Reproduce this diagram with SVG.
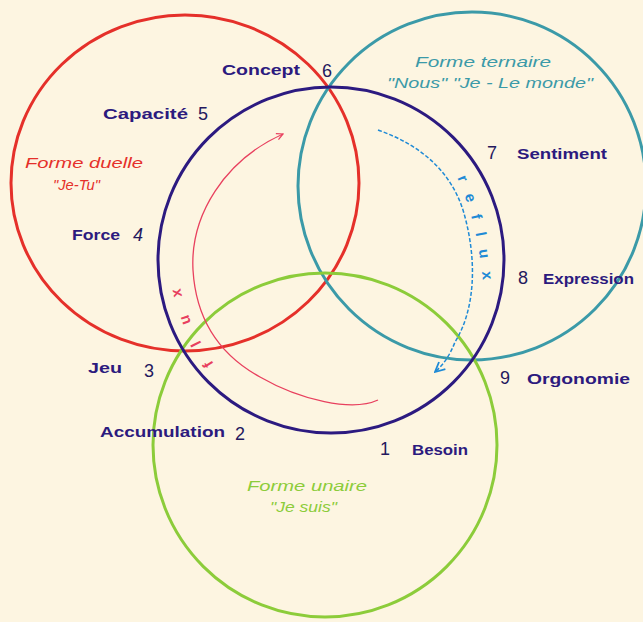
<svg xmlns="http://www.w3.org/2000/svg" width="643" height="622" viewBox="0 0 643 622">
<defs>
<style>
.lbl{font-family:"Liberation Sans",Arial,sans-serif;font-weight:bold;font-size:15px;fill:#2c1a7e}
.num{font-family:"Liberation Sans",Arial,sans-serif;font-size:18px;fill:#24185e}
.form{font-family:"Liberation Sans",Arial,sans-serif;font-style:italic;font-size:15px}
.c{fill:none;stroke-width:3}
</style>
<marker id="ahPink" viewBox="0 0 10 10" refX="9" refY="5" markerWidth="8" markerHeight="8" orient="auto" markerUnits="userSpaceOnUse">
<path d="M1,1 L9,5 L1,9" fill="none" stroke="#e8405e" stroke-width="1.5"/>
</marker>
<marker id="ahBlue" viewBox="0 0 10 10" refX="9" refY="5" markerWidth="12" markerHeight="12" orient="auto" markerUnits="userSpaceOnUse">
<path d="M1,1 L9,5 L1,9" fill="none" stroke="#1e8ad6" stroke-width="1.5"/>
</marker>
</defs>
<rect width="643" height="622" fill="#fdf5e1"/>
<g id="circles">
<g id="red-circle"><ellipse class="c" cx="185" cy="183" rx="174" ry="168" stroke="#e5302a"/></g>
<g id="teal-circle"><circle class="c" cx="472" cy="186" r="174" stroke="#3b9aa8"/></g>
<g id="green-circle"><circle class="c" cx="325" cy="445" r="172" stroke="#8ccc3a"/></g>
<g id="navy-circle"><circle class="c" cx="331" cy="260" r="173" stroke="#2c1a80"/></g>
</g>
<g id="connectors">
<path id="fluxPath" d="M378,400 C352,412 300,400 260,377 C220,355 196,320 193,270 C190,215 225,160 283,134" fill="none" stroke="#e8405e" stroke-width="1.3" marker-end="url(#ahPink)"/>
<path id="refluxPath" d="M378,130 C420,145 450,170 463,210 C478,260 475,310 455,342 C450,355 444,364 435,372" fill="none" stroke="#1e8ad6" stroke-width="1.5" stroke-dasharray="4,2" marker-end="url(#ahBlue)"/>
<path id="fluxText" d="M214,364 C196,335 182,310 176,262" fill="none"/>
<path id="refluxText" d="M457,178 C472,210 482,250 485,310" fill="none"/>
<text font-family="Liberation Sans,Arial,sans-serif" font-size="15" font-weight="bold" fill="#e8405e" letter-spacing="19"><textPath href="#fluxText">flux</textPath></text>
<text font-family="Liberation Sans,Arial,sans-serif" font-size="15" font-weight="bold" fill="#1e8ad6" letter-spacing="13"><textPath href="#refluxText">reflux</textPath></text>
</g>
<g id="labels">
<g id="n-concept"><text class="lbl" x="222" y="75" textLength="78" lengthAdjust="spacingAndGlyphs">Concept</text><text class="num" x="322" y="77">6</text></g>
<g id="n-capacite"><text class="lbl" x="103" y="119" textLength="85" lengthAdjust="spacingAndGlyphs">Capacité</text><text class="num" x="198" y="120">5</text></g>
<g id="n-force"><text class="lbl" x="72" y="240" textLength="48" lengthAdjust="spacingAndGlyphs">Force</text><text class="num" x="133" y="241" font-style="italic">4</text></g>
<g id="n-jeu"><text class="lbl" x="88" y="373" textLength="34" lengthAdjust="spacingAndGlyphs">Jeu</text><text class="num" x="144" y="377">3</text></g>
<g id="n-accumulation"><text class="lbl" x="100" y="437" textLength="125" lengthAdjust="spacingAndGlyphs">Accumulation</text><text class="num" x="235" y="440">2</text></g>
<g id="n-besoin"><text class="num" x="380" y="455">1</text><text class="lbl" x="412" y="455" textLength="56" lengthAdjust="spacingAndGlyphs">Besoin</text></g>
<g id="n-sentiment"><text class="num" x="487" y="159">7</text><text class="lbl" x="517" y="159" textLength="90" lengthAdjust="spacingAndGlyphs">Sentiment</text></g>
<g id="n-expression"><text class="num" x="518" y="284">8</text><text class="lbl" x="543" y="284" textLength="91" lengthAdjust="spacingAndGlyphs">Expression</text></g>
<g id="n-orgonomie"><text class="num" x="500" y="384">9</text><text class="lbl" x="527" y="384" textLength="103" lengthAdjust="spacingAndGlyphs">Orgonomie</text></g>
<g id="f-duelle"><text class="form" fill="#e5302a" x="25" y="168" textLength="118" lengthAdjust="spacingAndGlyphs">Forme duelle</text><text class="form" fill="#e5302a" x="53" y="190" textLength="47" lengthAdjust="spacingAndGlyphs">"Je-Tu"</text></g>
<g id="f-ternaire"><text class="form" fill="#3b9aa8" x="415" y="67" textLength="136" lengthAdjust="spacingAndGlyphs">Forme ternaire</text><text class="form" fill="#3b9aa8" x="387" y="88" textLength="206" lengthAdjust="spacingAndGlyphs">"Nous"  "Je - Le monde"</text></g>
<g id="f-unaire"><text class="form" fill="#8ccc3a" x="247" y="491" textLength="120" lengthAdjust="spacingAndGlyphs">Forme unaire</text><text class="form" fill="#8ccc3a" x="270" y="512" textLength="67" lengthAdjust="spacingAndGlyphs">"Je suis"</text></g>
</g>
</svg>
